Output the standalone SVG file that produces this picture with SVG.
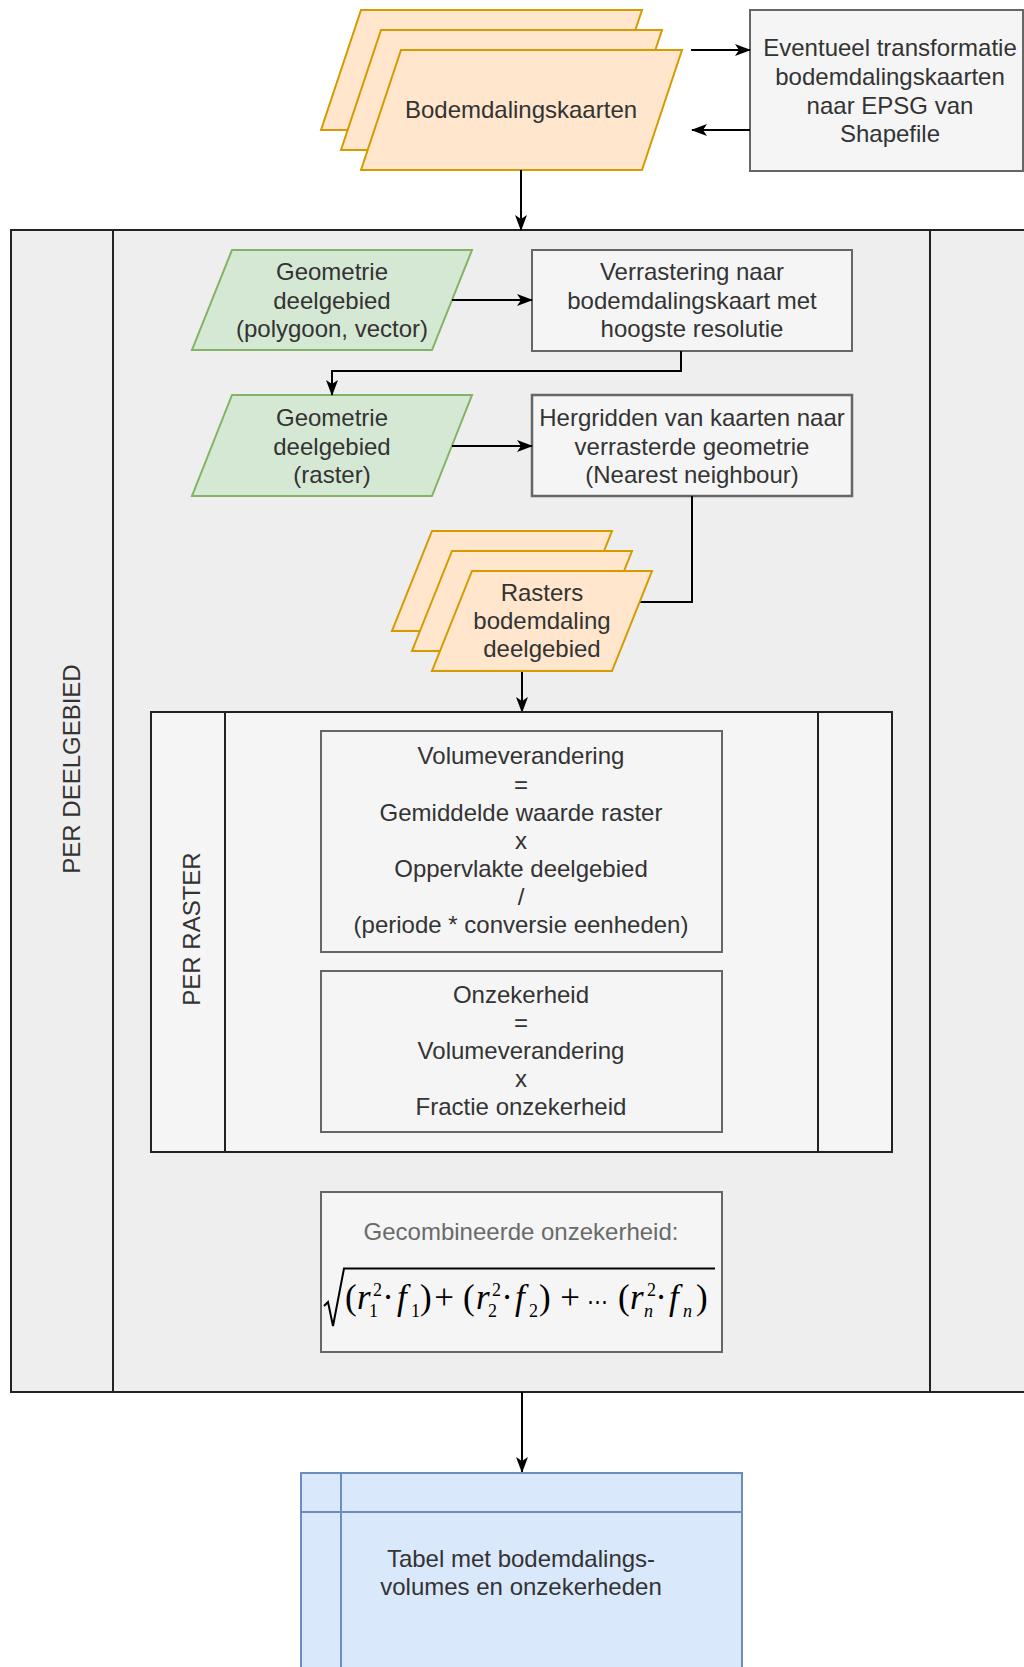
<svg xmlns="http://www.w3.org/2000/svg" width="1024" height="1667" viewBox="0 0 1024 1667">
<defs>
<marker id="arr" markerUnits="userSpaceOnUse" markerWidth="16" markerHeight="12" refX="15" refY="6" orient="auto">
<path d="M0,0 L16,6 L0,12 L4,6 z" fill="#000"/>
</marker>
<style>
text{font-family:"Liberation Sans",Arial,sans-serif;font-size:24px;fill:#333;}
.c{text-anchor:middle;}
.box{fill:#f5f5f5;stroke:#666;stroke-width:2;}
.org{fill:#ffe6cc;stroke:#d79b00;stroke-width:2;}
.grn{fill:#d5e8d4;stroke:#82b366;stroke-width:2;}
.lane{stroke:#222;stroke-width:2;}
.conn{fill:none;stroke:#000;stroke-width:2;}
.m{font-family:"Liberation Serif","Times New Roman",serif;font-size:35px;fill:#000;}
.mi{font-family:"Liberation Serif","Times New Roman",serif;font-size:35px;font-style:italic;fill:#000;}
.s{font-family:"Liberation Serif","Times New Roman",serif;font-size:18px;fill:#000;}
.si{font-family:"Liberation Serif","Times New Roman",serif;font-size:18px;font-style:italic;fill:#000;}
</style>
</defs>
<rect width="1024" height="1667" fill="#fff"/>

<g id="per-deelgebied">
<rect x="11" y="230" width="1030" height="1162" fill="#eeeeee" class="lane"/>
<line x1="113" y1="230" x2="113" y2="1392" class="lane"/>
<line x1="930" y1="230" x2="930" y2="1392" class="lane"/>
<text class="c" transform="translate(80,769) rotate(-90)">PER DEELGEBIED</text>
</g>

<g id="bodemdalingskaarten">
<polygon class="org" points="361,10 642,10 602,130 321,130"/>
<polygon class="org" points="381,30 662,30 622,150 341,150"/>
<polygon class="org" points="401,50 682,50 642,170 361,170"/>
<text class="c" x="521" y="118">Bodemdalingskaarten</text>
</g>

<g id="transformatie">
<rect class="box" x="750" y="10" width="273" height="161"/>
<text class="c" x="890" y="56">Eventueel transformatie</text>
<text class="c" x="890" y="85">bodemdalingskaarten</text>
<text class="c" x="890" y="114">naar EPSG van</text>
<text class="c" x="890" y="142">Shapefile</text>
</g>

<g id="geometrie-vector">
<polygon class="grn" points="232,250 472,250 432,350 192,350"/>
<text class="c" x="332" y="280">Geometrie</text>
<text class="c" x="332" y="309">deelgebied</text>
<text class="c" x="332" y="337">(polygoon, vector)</text>
</g>

<g id="verrastering">
<rect class="box" x="532" y="250" width="320" height="101"/>
<text class="c" x="692" y="280">Verrastering naar</text>
<text class="c" x="692" y="309">bodemdalingskaart met</text>
<text class="c" x="692" y="337">hoogste resolutie</text>
</g>

<g id="geometrie-raster">
<polygon class="grn" points="232,395 472,395 432,496 192,496"/>
<text class="c" x="332" y="426">Geometrie</text>
<text class="c" x="332" y="455">deelgebied</text>
<text class="c" x="332" y="483">(raster)</text>
</g>

<g id="hergridden">
<rect class="box" x="532" y="395" width="320" height="101" style="stroke-width:2.5"/>
<text class="c" x="692" y="426">Hergridden van kaarten naar</text>
<text class="c" x="692" y="455">verrasterde geometrie</text>
<text class="c" x="692" y="483">(Nearest neighbour)</text>
</g>

<g id="connectors">
<line class="conn" x1="521" y1="170" x2="521" y2="230" marker-end="url(#arr)"/>
<line class="conn" x1="691" y1="50" x2="750" y2="50" marker-end="url(#arr)"/>
<line class="conn" x1="750" y1="130" x2="692" y2="130" marker-end="url(#arr)"/>
<line class="conn" x1="452" y1="300" x2="532" y2="300" marker-end="url(#arr)"/>
<polyline class="conn" points="681,351 681,371 332,371 332,395" marker-end="url(#arr)"/>
<line class="conn" x1="452" y1="446" x2="532" y2="446" marker-end="url(#arr)"/>
<polyline class="conn" points="692,496 692,602 640,602"/>
<line class="conn" x1="522" y1="671" x2="522" y2="712" marker-end="url(#arr)"/>
<line class="conn" x1="522" y1="1392" x2="522" y2="1472" marker-end="url(#arr)"/>
</g>

<g id="rasters">
<polygon class="org" points="432,531 612,531 572,631 392,631"/>
<polygon class="org" points="452,551 632,551 592,651 412,651"/>
<polygon class="org" points="472,571 652,571 612,671 432,671"/>
<text class="c" x="542" y="601">Rasters</text>
<text class="c" x="542" y="629">bodemdaling</text>
<text class="c" x="542" y="657">deelgebied</text>
</g>

<g id="per-raster">
<rect x="151" y="712" width="741" height="440" fill="#f5f5f5" class="lane"/>
<line x1="225" y1="712" x2="225" y2="1152" class="lane"/>
<line x1="818" y1="712" x2="818" y2="1152" class="lane"/>
<text class="c" transform="translate(199.5,929) rotate(-90)">PER RASTER</text>
</g>

<g id="volumeverandering">
<rect class="box" x="321" y="731" width="401" height="221"/>
<text class="c" x="521" y="764">Volumeverandering</text>
<text class="c" x="521" y="793">=</text>
<text class="c" x="521" y="821">Gemiddelde waarde raster</text>
<text class="c" x="521" y="849">x</text>
<text class="c" x="521" y="877">Oppervlakte deelgebied</text>
<text class="c" x="521" y="905">/</text>
<text class="c" x="521" y="933">(periode * conversie eenheden)</text>
</g>

<g id="onzekerheid">
<rect class="box" x="321" y="971" width="401" height="161"/>
<text class="c" x="521" y="1003">Onzekerheid</text>
<text class="c" x="521" y="1031">=</text>
<text class="c" x="521" y="1059">Volumeverandering</text>
<text class="c" x="521" y="1087">x</text>
<text class="c" x="521" y="1115">Fractie onzekerheid</text>
</g>

<g id="gecombineerd">
<rect class="box" x="321" y="1192" width="401" height="160"/>
<text class="c" x="521" y="1240" style="fill:#6a6a6a">Gecombineerde onzekerheid:</text>
<path d="M324,1306 L328,1302 L333,1326 L344,1268.5 L715,1268.5" fill="none" stroke="#000" stroke-width="2"/>
<text class="m" x="345" y="1309">(</text>
<text class="mi" x="357" y="1309">r</text>
<text class="s" x="373" y="1296">2</text>
<text class="s" x="369" y="1317">1</text>
<text class="m c" x="388" y="1309">·</text>
<text class="mi" x="397" y="1309">f</text>
<text class="s" x="411" y="1317">1</text>
<text class="m" x="420" y="1309">)</text>
<text class="m c" x="444" y="1309">+</text>
<text class="m" x="463" y="1309">(</text>
<text class="mi" x="476" y="1309">r</text>
<text class="s" x="492" y="1296">2</text>
<text class="s" x="488" y="1317">2</text>
<text class="m c" x="507" y="1309">·</text>
<text class="mi" x="515" y="1309">f</text>
<text class="s" x="529" y="1317">2</text>
<text class="m" x="539" y="1309">)</text>
<text class="m c" x="570" y="1309">+</text>
<text class="c" x="597" y="1309" style="font-family:'DejaVu Serif',serif;font-size:21px;fill:#000">⋯</text>
<text class="m" x="618" y="1309">(</text>
<text class="mi" x="630" y="1309">r</text>
<text class="s" x="647" y="1296">2</text>
<text class="si" x="644" y="1317">n</text>
<text class="m c" x="661" y="1309">·</text>
<text class="mi" x="669" y="1309">f</text>
<text class="si" x="683" y="1317">n</text>
<text class="m" x="696" y="1309">)</text>
</g>

<g id="tabel">
<rect x="301" y="1473" width="441" height="210" fill="#dae8fc" stroke="#6c8ebf" stroke-width="2"/>
<line x1="341" y1="1473" x2="341" y2="1683" stroke="#6c8ebf" stroke-width="2"/>
<line x1="301" y1="1512" x2="742" y2="1512" stroke="#6c8ebf" stroke-width="2"/>
<text class="c" x="521" y="1567">Tabel met bodemdalings-</text>
<text class="c" x="521" y="1595">volumes en onzekerheden</text>
</g>
</svg>
